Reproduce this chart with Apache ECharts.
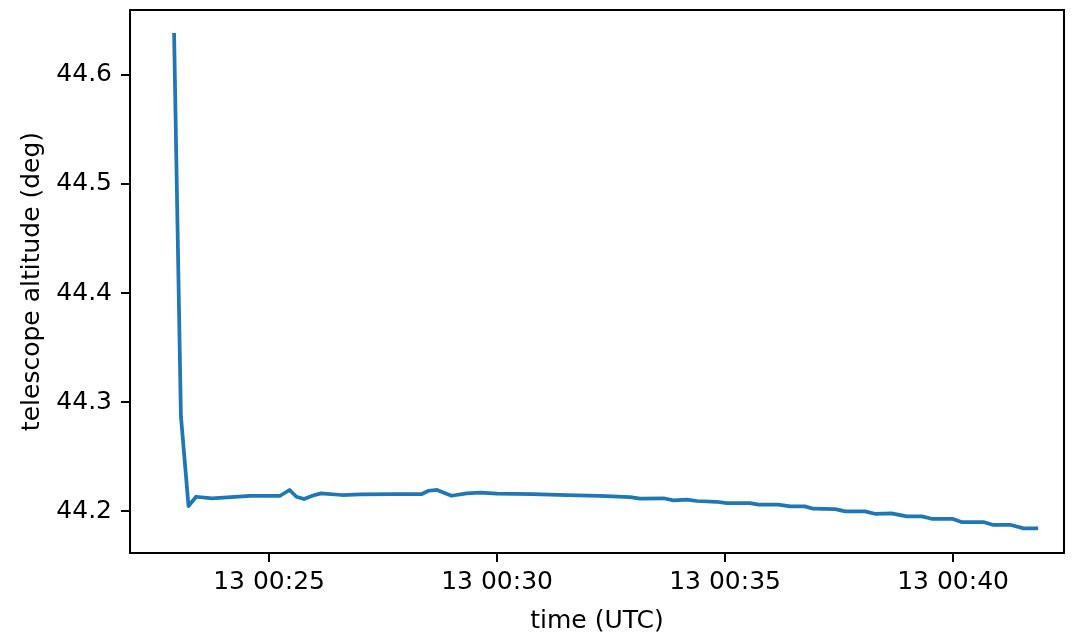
<!DOCTYPE html>
<html>
<head>
<meta charset="utf-8">
<script src="https://cdn.jsdelivr.net/npm/echarts@6/dist/echarts.min.js"></script>
<style>html,body{margin:0;padding:0;background:#fff}#c{width:1075px;height:636px}</style>
</head>
<body>
<div id="c"></div>
<script>
const times = ['00:22:55','00:23:04','00:23:14','00:23:24','00:23:45','00:24:35','00:25:14','00:25:27','00:25:36','00:25:46','00:25:57','00:26:08','00:26:36','00:27:00','00:27:43','00:28:21','00:28:30','00:28:41','00:29:00','00:29:20','00:29:38','00:30:00','00:30:47','00:31:32','00:32:15','00:32:55','00:33:08','00:33:39','00:33:52','00:34:10','00:34:23','00:34:49','00:35:02','00:35:33','00:35:44','00:36:10','00:36:26','00:36:45','00:36:56','00:37:25','00:37:38','00:38:04','00:38:17','00:38:39','00:38:59','00:39:19','00:39:32','00:40:00','00:40:11','00:40:40','00:40:53','00:41:15','00:41:33','00:41:52'];
const altitude = [44.6385,44.287,44.2046,44.2131,44.2117,44.2138,44.2138,44.2193,44.2131,44.211,44.214,44.2162,44.2147,44.2153,44.2156,44.2156,44.2186,44.2193,44.214,44.2162,44.2168,44.2159,44.2156,44.2147,44.2138,44.2128,44.2113,44.2117,44.2098,44.2104,44.2092,44.2085,44.2073,44.2073,44.2058,44.2058,44.2043,44.2043,44.2021,44.2018,44.1997,44.1997,44.1975,44.1979,44.1951,44.1951,44.1929,44.1927,44.1899,44.1899,44.1872,44.1874,44.1841,44.1841];
const xTickLabels = ['00:25','00:30','00:35','00:40'];
const yTicks = [44.2,44.3,44.4,44.5,44.6];

function toSec(t){const p=t.split(':').map(Number);return p[0]*3600+p[1]*60+(p[2]||0);}
function fmt(s){const h=Math.floor(s/3600),m=Math.round((s%3600)/60);return '13 '+String(h).padStart(2,'0')+':'+String(m).padStart(2,'0');}

const data = times.map((t,i)=>[toSec(t), altitude[i]]);
const xTickVals = xTickLabels.map(toSec);
const FONT = 'DejaVu Sans';

const chart = echarts.init(document.getElementById('c'));
chart.setOption({
  animation:false,
  backgroundColor:'#fff',
  grid:{left:130,right:11,top:10,bottom:83,outerBoundsMode:'none',containLabel:false,show:true,borderColor:'#000',borderWidth:2,backgroundColor:'transparent'},
  xAxis:{
    type:'value',
    min:toSec('00:21:57'), max:toSec('00:42:26'),
    name:'time (UTC)', nameLocation:'middle', nameGap:56,
    nameTextStyle:{fontFamily:FONT,fontSize:25,color:'#000'},
    axisLine:{show:true,onZero:false,lineStyle:{color:'#000',width:2}},
    axisTick:{show:true,length:9,lineStyle:{color:'#000',width:2},customValues:xTickVals},
    axisLabel:{fontFamily:FONT,fontSize:25,color:'#000',margin:17,customValues:xTickVals,formatter:v=>fmt(v)},
    splitLine:{show:false}
  },
  yAxis:{
    type:'value',
    min:44.1615, max:44.6596,
    name:'telescope altitude (deg)', nameLocation:'middle', nameRotate:90, nameGap:84,
    nameTextStyle:{fontFamily:FONT,fontSize:25,color:'#000'},
    axisLine:{show:true,onZero:false,lineStyle:{color:'#000',width:2}},
    axisTick:{show:true,length:9,lineStyle:{color:'#000',width:2},customValues:yTicks},
    axisLabel:{fontFamily:FONT,fontSize:25,color:'#000',margin:18,customValues:yTicks,formatter:v=>v.toFixed(1)},
    splitLine:{show:false}
  },
  series:[{
    type:'line', data:data, showSymbol:false, symbol:'none',
    lineStyle:{color:'#1f77b4',width:3.75,join:'round',cap:'butt'},
    clip:true
  }]
});
</script>
</body>
</html>
